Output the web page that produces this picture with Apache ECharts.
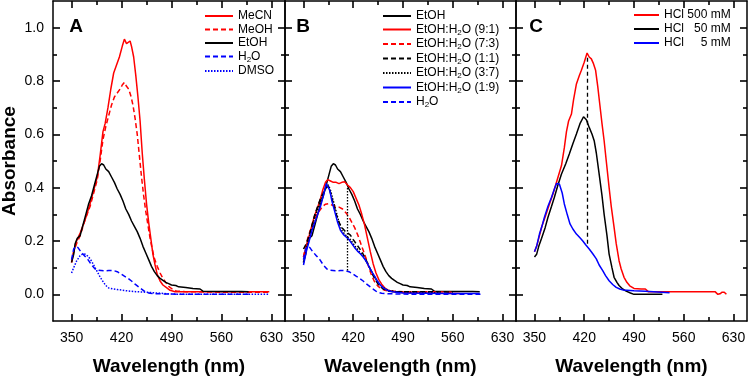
<!DOCTYPE html>
<html>
<head>
<meta charset="utf-8">
<script src="https://cdn.jsdelivr.net/npm/echarts@6.0.0/dist/echarts.min.js"></script>
<style>
  html, body { margin: 0; padding: 0; background: #fff; }
  #chart { width: 749px; height: 376px; }
</style>
</head>
<body>
<div id="chart"></div>
<script>
// axis ticks
const xMajor = [350, 420, 490, 560, 630];
const xMinor = [385, 455, 525, 595];
const yMajor = [0, 0.2, 0.4, 0.6, 0.8, 1.0];
const yMinor = [0.1, 0.3, 0.5, 0.7, 0.9];

// panel A: solvents  [wavelength nm, absorbance]
const mecn = [[350,0.12],[353,0.16],[357,0.2],[362,0.23],[369,0.28],[376,0.34],[381,0.39],[386,0.44],[390,0.52],[394,0.61],[397,0.64],[401,0.7],[405,0.77],[409,0.83],[413,0.86],[417,0.89],[421,0.93],[424,0.957],[427,0.94],[429,0.945],[432,0.95],[434,0.93],[437,0.89],[440,0.82],[443,0.74],[446,0.65],[449,0.53],[452,0.43],[455,0.34],[458,0.27],[461,0.21],[464,0.15],[467,0.11],[470,0.075],[474,0.05],[478,0.035],[483,0.025],[488,0.015],[495,0.01],[540,0.01],[600,0.01],[627,0.01]];
const meoh = [[350,0.12],[353,0.16],[357,0.19],[362,0.22],[369,0.28],[376,0.33],[381,0.38],[386,0.43],[390,0.5],[394,0.58],[398,0.63],[402,0.67],[406,0.71],[410,0.74],[414,0.755],[418,0.77],[421,0.785],[424,0.795],[427,0.78],[430,0.77],[433,0.745],[436,0.71],[439,0.66],[442,0.6],[445,0.52],[448,0.44],[451,0.37],[454,0.31],[457,0.26],[460,0.21],[463,0.17],[466,0.135],[470,0.105],[474,0.08],[478,0.06],[482,0.045],[486,0.03],[491,0.02],[497,0.012],[510,0.01],[560,0.008],[627,0.008]];
const etoh = [[350,0.12],[353,0.15],[355,0.19],[358,0.21],[362,0.22],[366,0.26],[370,0.3],[374,0.34],[378,0.37],[382,0.41],[386,0.45],[389,0.48],[392,0.49],[395,0.485],[398,0.47],[402,0.46],[406,0.44],[410,0.42],[414,0.395],[418,0.375],[422,0.35],[426,0.32],[430,0.3],[434,0.275],[438,0.255],[442,0.235],[446,0.21],[450,0.18],[454,0.155],[458,0.13],[462,0.105],[466,0.085],[470,0.07],[474,0.06],[478,0.052],[482,0.045],[486,0.04],[490,0.035],[496,0.033],[500,0.028],[510,0.026],[520,0.022],[530,0.02],[534,0.012],[560,0.011],[585,0.011],[586,0.004],[588,0.011],[598,0.01]];
const water = [[350,0.13],[353,0.17],[356,0.18],[359,0.175],[363,0.16],[368,0.145],[373,0.13],[378,0.11],[383,0.095],[388,0.09],[395,0.088],[402,0.089],[409,0.089],[414,0.085],[419,0.077],[424,0.068],[429,0.06],[434,0.05],[439,0.038],[444,0.028],[449,0.018],[454,0.008],[460,0.004],[470,0.002],[490,0.001],[520,0],[600,0]];
const dmso = [[350,0.08],[353,0.1],[357,0.125],[362,0.145],[366,0.152],[370,0.15],[374,0.14],[378,0.125],[382,0.105],[386,0.085],[390,0.065],[394,0.048],[398,0.033],[402,0.024],[408,0.02],[414,0.018],[420,0.016],[428,0.013],[440,0.01],[455,0.008],[470,0.005],[480,0.003],[490,0.001],[520,0],[627,0]];

// panel B: EtOH / water mixtures
const mix91 = [[350,0.14],[353,0.17],[357,0.21],[361,0.25],[365,0.29],[369,0.32],[373,0.35],[377,0.39],[381,0.42],[384,0.43],[388,0.425],[392,0.42],[396,0.42],[400,0.415],[404,0.42],[408,0.422],[412,0.41],[416,0.4],[420,0.385],[424,0.36],[428,0.335],[432,0.3],[436,0.26],[440,0.21],[444,0.16],[448,0.115],[452,0.08],[456,0.055],[460,0.038],[465,0.022],[470,0.014],[480,0.008],[500,0.006],[540,0.004],[570,0.003]];
const mix73 = [[350,0.14],[353,0.18],[357,0.22],[361,0.25],[365,0.28],[369,0.3],[373,0.315],[377,0.33],[381,0.338],[385,0.34],[390,0.335],[395,0.33],[400,0.327],[405,0.32],[410,0.305],[414,0.29],[418,0.27],[422,0.25],[426,0.225],[430,0.195],[434,0.165],[438,0.135],[442,0.1],[446,0.07],[450,0.047],[455,0.03],[460,0.02],[466,0.014],[475,0.012],[490,0.01],[530,0.01],[560,0.008]];
const mix11 = [[350,0.17],[354,0.19],[358,0.22],[362,0.26],[366,0.3],[370,0.33],[374,0.36],[378,0.38],[382,0.4],[385,0.405],[388,0.38],[392,0.34],[396,0.3],[400,0.27],[404,0.25],[408,0.238],[412,0.23],[416,0.222],[420,0.205],[424,0.19],[428,0.175],[432,0.16],[436,0.14],[440,0.118],[444,0.095],[448,0.07],[452,0.05],[456,0.035],[462,0.02],[470,0.012],[480,0.01],[530,0.01],[560,0.008]];
const mix37 = [[350,0.12],[354,0.17],[358,0.21],[362,0.25],[366,0.29],[370,0.32],[374,0.35],[378,0.38],[382,0.405],[385,0.41],[388,0.39],[392,0.35],[396,0.31],[400,0.27],[404,0.24],[408,0.225],[412,0.215],[416,0.205],[420,0.19],[424,0.175],[428,0.162],[432,0.15],[436,0.135],[440,0.115],[444,0.095],[448,0.075],[452,0.055],[456,0.04],[462,0.025],[470,0.015],[480,0.01],[500,0.008],[540,0.006]];
const mix19 = [[350,0.11],[354,0.16],[358,0.2],[362,0.24],[366,0.27],[370,0.3],[374,0.33],[378,0.37],[382,0.415],[384,0.42],[387,0.39],[390,0.35],[394,0.31],[398,0.27],[402,0.24],[406,0.225],[410,0.215],[414,0.205],[418,0.19],[422,0.175],[426,0.162],[430,0.152],[434,0.14],[438,0.125],[442,0.105],[446,0.085],[450,0.068],[454,0.05],[458,0.035],[462,0.025],[468,0.015],[475,0.01],[490,0.005],[520,0.004],[560,0.003],[598,0.003]];

// panel C: HCl
const hcl500 = [[350,0.16],[353,0.18],[357,0.22],[361,0.26],[365,0.29],[370,0.33],[376,0.376],[382,0.43],[388,0.483],[392,0.55],[395,0.61],[398,0.65],[402,0.676],[405,0.73],[409,0.789],[413,0.82],[416,0.84],[420,0.87],[424,0.905],[427,0.89],[430,0.883],[433,0.865],[436,0.84],[439,0.78],[442,0.71],[445,0.64],[448,0.576],[451,0.5],[455,0.4],[458,0.33],[462,0.251],[465,0.19],[469,0.126],[472,0.095],[476,0.064],[480,0.045],[484,0.032],[490,0.022],[500,0.02],[506,0.02],[510,0.01],[560,0.01],[604,0.01],[608,0],[611,0.002],[614,0.008],[617,0.008],[620,0]];
const hcl50 = [[350,0.14],[353,0.15],[356,0.18],[360,0.21],[365,0.25],[369,0.289],[374,0.33],[378,0.364],[383,0.41],[388,0.451],[394,0.49],[399,0.526],[404,0.565],[409,0.601],[414,0.64],[419,0.666],[423,0.655],[427,0.626],[431,0.6],[434,0.576],[437,0.53],[441,0.451],[445,0.37],[448,0.3],[452,0.22],[455,0.151],[459,0.1],[462,0.064],[466,0.045],[469,0.033],[474,0.02],[479,0.012],[485,0.005],[490,0],[530,0]];
const hcl5 = [[350,0.16],[353,0.18],[357,0.226],[361,0.26],[364,0.289],[369,0.33],[374,0.364],[378,0.395],[381,0.416],[385,0.414],[389,0.38],[392,0.339],[396,0.3],[400,0.264],[404,0.245],[409,0.226],[414,0.212],[418,0.2],[422,0.186],[427,0.17],[432,0.152],[437,0.133],[441,0.11],[446,0.089],[450,0.07],[455,0.051],[460,0.037],[465,0.026],[470,0.02],[475,0.016],[490,0.013],[506,0.012],[540,0.006]];

// arrows (start, end)
const arrowB = [[411.5, 0.089], [411.5, 0.40]];
const arrowC = [[424, 0.19], [424, 0.89]];

const FONT = 'Liberation Sans';
const RED = '#ff0000', BLUE = '#0000ff', BLACK = '#000000';
// fixed plot boxes, no auto shrinking for labels
const grids = [
  { left: 53, top: 1, width: 232, height: 320, outerBoundsMode: 'none' },
  { left: 285, top: 1, width: 231, height: 320, outerBoundsMode: 'none' },
  { left: 516, top: 1, width: 231, height: 320, outerBoundsMode: 'none' }
];

const frameLine = { show: true, onZero: false, lineStyle: { color: BLACK, width: 1.5 } };
const noLine = { show: false, onZero: false };
const tickStyle = { color: BLACK, width: 1.6 };
const major = vals => ({ show: true, inside: true, length: 7, customValues: vals, lineStyle: tickStyle });
const minor = vals => ({ show: true, inside: true, length: 4, customValues: vals, lineStyle: tickStyle });

let xAxes = [], yAxes = [];
grids.forEach((g, i) => {
  const bx = { type: 'value', gridIndex: i, min: 324, max: 649, splitLine: { show: false } };
  xAxes.push(
    { ...bx, position: 'bottom', axisLine: frameLine, axisTick: major(xMajor),
      axisLabel: { customValues: xMajor, color: BLACK, fontFamily: FONT, fontSize: 14, margin: 10 },
      name: 'Wavelength (nm)', nameLocation: 'middle', nameGap: 36,
      nameTextStyle: { fontFamily: FONT, fontWeight: 'bold', fontSize: 19, color: BLACK } },
    { ...bx, position: 'bottom', axisLine: noLine, axisTick: minor(xMinor), axisLabel: { show: false } },
    { ...bx, position: 'top', axisLine: frameLine, axisTick: major(xMajor), axisLabel: { show: false } },
    { ...bx, position: 'top', axisLine: noLine, axisTick: minor(xMinor), axisLabel: { show: false } }
  );
  const by = { type: 'value', gridIndex: i, min: -0.1, max: 1.1, splitLine: { show: false } };
  const left = { ...by, position: 'left', axisLine: frameLine, axisTick: major(yMajor),
    axisLabel: { show: false } };
  if (i === 0) {
    left.axisLabel = { customValues: yMajor, color: BLACK, fontFamily: FONT, fontSize: 14, margin: 9,
      formatter: v => v.toFixed(1) };
    left.name = 'Absorbance';
    left.nameLocation = 'middle';
    left.nameGap = 34;
    left.nameTextStyle = { fontFamily: FONT, fontWeight: 'bold', fontSize: 19, color: BLACK };
  }
  yAxes.push(
    left,
    { ...by, position: 'left', axisLine: noLine, axisTick: minor(yMinor), axisLabel: { show: false } },
    { ...by, position: 'right', axisLine: frameLine, axisTick: major(yMajor), axisLabel: { show: false } },
    { ...by, position: 'right', axisLine: noLine, axisTick: minor(yMinor), axisLabel: { show: false } }
  );
});

function line(panel, name, data, color, type) {
  let dash = type;
  if (type === 'dashed') dash = [5, 3];
  if (type === 'dotted') dash = [1.5, 1.5];
  return {
    type: 'line', name, data, xAxisIndex: panel * 4, yAxisIndex: panel * 4,
    symbol: 'none', showSymbol: false, animation: false, silent: true,
    lineStyle: { color, width: 1.5, type: dash }, itemStyle: { color }
  };
}

function arrow(pts, type) {
  return {
    silent: true, animation: false,
    symbol: ['none', 'arrow'], symbolSize: [0, 10],
    label: { show: false },
    lineStyle: { color: BLACK, width: 1.3, type: type },
    data: [[{ coord: pts[0] }, { coord: pts[1] }]]
  };
}

const series = [
  line(0, 'MeCN', mecn, RED, 'solid'),
  line(0, 'MeOH', meoh, RED, 'dashed'),
  line(0, 'EtOH', etoh, BLACK, 'solid'),
  line(0, 'H2O', water, BLUE, 'dashed'),
  line(0, 'DMSO', dmso, BLUE, 'dotted'),

  line(1, 'EtOH', etoh, BLACK, 'solid'),
  line(1, 'EtOH:H2O (9:1)', mix91, RED, 'solid'),
  line(1, 'EtOH:H2O (7:3)', mix73, RED, 'dashed'),
  line(1, 'EtOH:H2O (1:1)', mix11, BLACK, 'dashed'),
  line(1, 'EtOH:H2O (3:7)', mix37, BLACK, 'dotted'),
  line(1, 'EtOH:H2O (1:9)', mix19, BLUE, 'solid'),
  line(1, 'H2O', water, BLUE, 'dashed'),

  line(2, 'HCl 500 mM', hcl500, RED, 'solid'),
  line(2, 'HCl   50 mM', hcl50, BLACK, 'solid'),
  line(2, 'HCl     5 mM', hcl5, BLUE, 'solid')
];
series[9].markLine = arrow(arrowB, [1.5, 1.5]);
series[13].markLine = arrow(arrowC, [4, 3]);

// H2O -> H with subscript 2
function subFmt(n) {
  return n.split('H2O').map(p => p ? '{t|' + p + '}' : '').join('{t|H}{s|2}{t|O}');
}
const legendText = {
  color: BLACK, fontFamily: FONT, fontSize: 12,
  rich: {
    t: { fontFamily: FONT, fontSize: 12, color: BLACK },
    s: { fontFamily: FONT, fontSize: 8, color: BLACK, padding: [6, 0, 0, 0] }
  }
};
const legendBase = {
  orient: 'vertical', itemWidth: 28, itemHeight: 14, itemGap: 1.5,
  selectedMode: false, formatter: subFmt, textStyle: legendText, padding: 0,
  itemStyle: { opacity: 0 }
};

const option = {
  animation: false,
  grid: grids,
  xAxis: xAxes,
  yAxis: yAxes,
  legend: [
    { ...legendBase, left: 204, top: 10, data: ['MeCN', 'MeOH', 'EtOH', 'H2O', 'DMSO'] },
    { ...legendBase, left: 382, top: 10,
      data: ['EtOH', 'EtOH:H2O (9:1)', 'EtOH:H2O (7:3)', 'EtOH:H2O (1:1)', 'EtOH:H2O (3:7)', 'EtOH:H2O (1:9)', 'H2O'] },
    { ...legendBase, left: 633, top: 9, itemWidth: 25, itemGap: 2,
      data: ['HCl 500 mM', 'HCl   50 mM', 'HCl     5 mM'] }
  ],
  graphic: [
    { type: 'text', style: { text: 'A', x: 76, y: 27, align: 'center', verticalAlign: 'middle', font: 'bold 19px "Liberation Sans"', fill: BLACK } },
    { type: 'text', style: { text: 'B', x: 303, y: 27, align: 'center', verticalAlign: 'middle', font: 'bold 19px "Liberation Sans"', fill: BLACK } },
    { type: 'text', style: { text: 'C', x: 536, y: 27, align: 'center', verticalAlign: 'middle', font: 'bold 19px "Liberation Sans"', fill: BLACK } }
  ],
  series
};

const myChart = echarts.init(document.getElementById('chart'));
myChart.setOption(option);
</script>
</body>
</html>
